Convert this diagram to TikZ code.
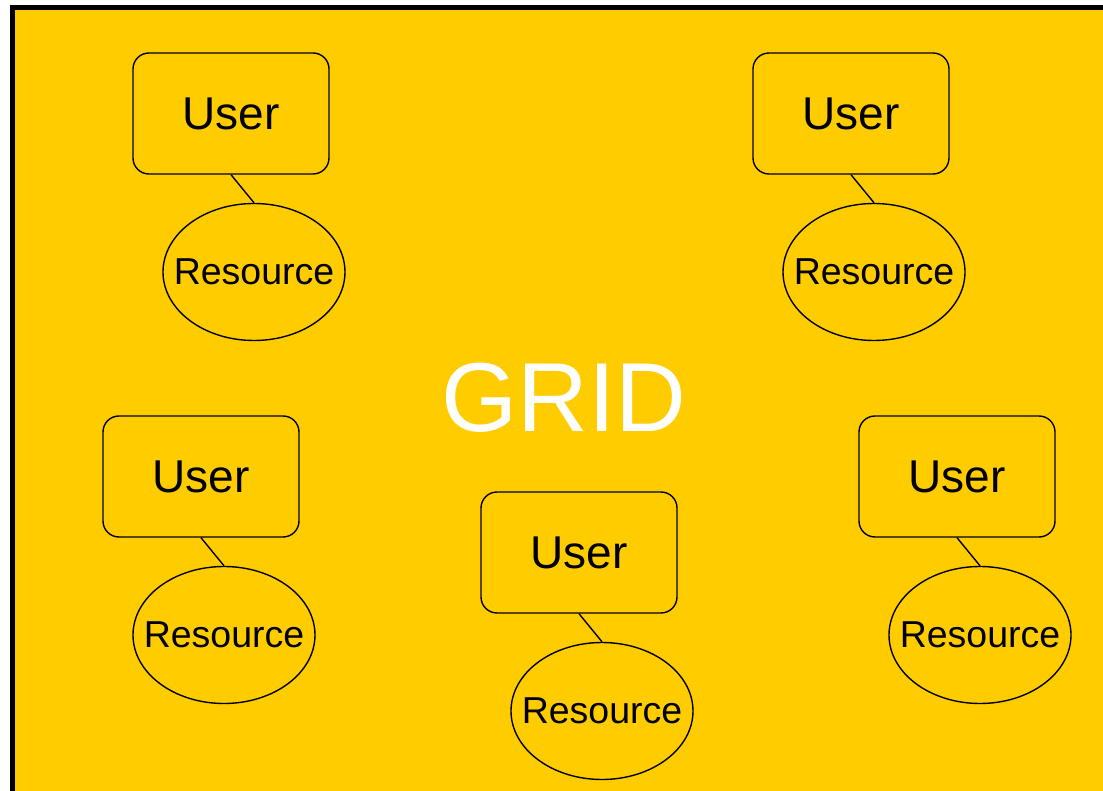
\documentclass[tikz,border=0pt]{standalone}
\usepackage{fontspec}
\setmainfont{Liberation Sans}
\usepackage{tikz}
\usetikzlibrary{shapes}
\usepackage{xcolor}
\definecolor{gridyellow}{RGB}{255,204,0}

\begin{document}
\begin{tikzpicture}[-, x=1pt, y=-1pt, line width=1.4pt, user node/.style={rectangle, rounded corners=16pt, draw, minimum width=196pt, minimum height=121pt, inner sep=0pt, font=\fontsize{46}{50}\selectfont}, res node/.style={ellipse, draw, minimum width=182pt, minimum height=137pt, inner xsep=-16pt, inner ysep=0pt, font=\fontsize{37.5}{40}\selectfont}]
\clip (0,0) rectangle (1103,791);
\draw [fill=gridyellow, line width=5pt] (12.5,7.5) rectangle (1130,820);
\node[white, font=\fontsize{98}{100}\selectfont] (grid) at (564,398) {GRID};
\node[user node] (u1) at (231,113.5) {User};
\node[res node] (r1) at (254,272) {Resource};
\node[user node] (u2) at (851,113.5) {User};
\node[res node] (r2) at (874,272) {Resource};
\node[user node] (u3) at (201,476.5) {User};
\node[res node] (r3) at (224,635) {Resource};
\node[user node] (u4) at (579,552.5) {User};
\node[res node] (r4) at (602,711) {Resource};
\node[user node] (u5) at (957,476.5) {User};
\node[res node] (r5) at (980,635) {Resource};
\path 
(u1.south) edge (r1.north)
(u2.south) edge (r2.north)
(u3.south) edge (r3.north)
(u4.south) edge (r4.north)
(u5.south) edge (r5.north);
\end{tikzpicture}
\end{document}
